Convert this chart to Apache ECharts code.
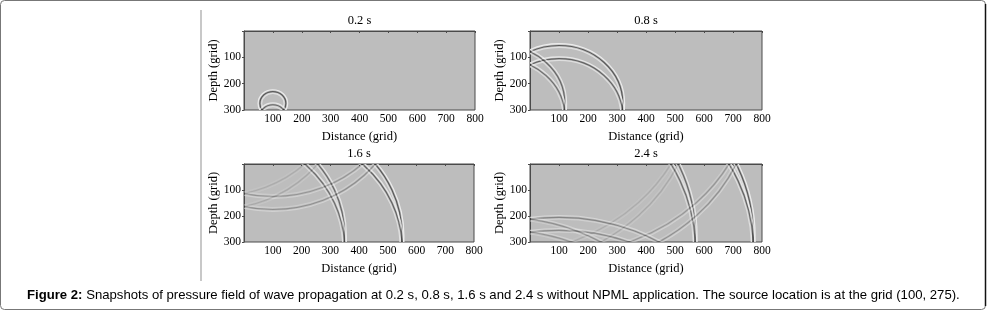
<!DOCTYPE html>
<html>
<head>
<meta charset="utf-8">
<script src="https://cdn.jsdelivr.net/npm/echarts@6/dist/echarts.min.js"></script>
<style>
  html, body { margin: 0; padding: 0; background: #fff; }
  #main { width: 987px; height: 311px; }
</style>
</head>
<body>
<div id="main"></div>
<script>
// snapshot times and wavefront radius (grid units)
var times = ["0.2 s", "0.8 s", "1.6 s", "2.4 s"];
var radii = [45, 220, 450, 670];
// source (100, 275) and its mirror images: [x, depth, strength]
var sources = [
  [100, 275, 1.0], [100, 325, 0.9],
  [-100, 275, 0.85], [-100, 325, 0.8],
  [100, -275, 0.45], [100, -325, 0.4],
  [-100, -275, 0.2], [-100, -325, 0.18],
  [100, 875, 0.55], [100, 925, 0.5],
  [-100, 875, 0.45], [-100, 925, 0.4]
];
var xTicks = [0, 100, 200, 300, 400, 500, 600, 700, 800];
var yTicks = [0, 100, 200, 300];

var chartDom = document.getElementById("main");
var myChart = echarts.init(chartDom);

var grids = [
  { left: 244, top: 31, width: 231, height: 79 },
  { left: 530, top: 31, width: 232, height: 79 },
  { left: 244, top: 164, width: 230, height: 78 },
  { left: 530, top: 164, width: 232, height: 78 }
];
var serif = "Liberation Serif";

function renderWave(params, api) {
  var c = api.coord([api.value(0), api.value(1)]);
  var s = api.size([api.value(2), api.value(2)]);
  var a = api.value(3);
  var bands = [
    [1.8, "rgba(245,245,245," + (0.85 * a) + ")"],
    [0, "rgba(45,45,45," + (0.7 * a) + ")"],
    [-1.8, "rgba(240,240,240," + (0.7 * a) + ")"]
  ];
  var children = [];
  bands.forEach(function (b) {
    children.push({
      type: "ellipse",
      shape: { cx: c[0], cy: c[1], rx: Math.max(s[0] + b[0], 0.5), ry: Math.max(s[1] + b[0], 0.5) },
      style: { fill: null, stroke: b[1], lineWidth: 1.2 }
    });
  });
  return { type: "group", children: children };
}

var option = {
  animation: false,
  title: [],
  grid: [],
  xAxis: [],
  yAxis: [],
  series: [],
  graphic: [
    {
      type: "rect",
      shape: { x: 0.5, y: 0.5, width: 985, height: 309, r: 4 },
      style: { fill: null, stroke: "#777", lineWidth: 1 },
      silent: true
    },
    {
      type: "line",
      shape: { x1: 985.5, y1: 4, x2: 985.5, y2: 306 },
      style: { stroke: "#111", lineWidth: 1.5 },
      silent: true
    },
    {
      type: "line",
      shape: { x1: 201, y1: 10, x2: 201, y2: 281 },
      style: { stroke: "#c8c8c8", lineWidth: 2 },
      silent: true
    },
    {
      type: "text",
      left: 27,
      top: 289,
      style: {
        text: "{b|Figure 2:} Snapshots of pressure field of wave propagation at 0.2 s, 0.8 s, 1.6 s and 2.4 s without NPML application. The source location is at the grid (100, 275).",
        font: "13.15px Liberation Sans",
        fill: "#000",
        rich: { b: { fontWeight: "bold", fontSize: 13.15, fontFamily: "Liberation Sans" } }
      }
    }
  ]
};

times.forEach(function (t, i) {
  var g = grids[i];
  option.title.push({
    text: t,
    left: g.left + g.width / 2,
    top: g.top - 17,
    padding: 0,
    textAlign: "center",
    textStyle: { fontFamily: serif, fontSize: 12.5, fontWeight: "normal", color: "#000" }
  });
  option.grid.push({
    left: g.left, top: g.top, width: g.width, height: g.height,
    show: true, backgroundColor: "#bdbdbd", borderColor: "#4a4a4a", borderWidth: 1
  });
  option.xAxis.push({
    type: "value", gridIndex: i, min: xTicks[0], max: xTicks[xTicks.length - 1], interval: 100,
    name: "Distance (grid)", nameLocation: "middle", nameGap: 20,
    nameTextStyle: { fontFamily: serif, fontSize: 12.5, color: "#000" },
    axisLine: { show: true, lineStyle: { color: "#4a4a4a" } },
    axisTick: { show: true, length: 2, lineStyle: { color: "#4a4a4a" } },
    axisLabel: {
      margin: 3, fontFamily: serif, fontSize: 11.5, color: "#000",
      formatter: function (v) { return v === 0 ? "" : v; }
    },
    splitLine: { show: false }
  });
  option.yAxis.push({
    type: "value", gridIndex: i, inverse: true, min: yTicks[0], max: yTicks[yTicks.length - 1], interval: 100,
    name: "Depth (grid)", nameLocation: "middle", nameGap: 24,
    nameTextStyle: { fontFamily: serif, fontSize: 12.5, color: "#000" },
    axisLine: { show: true, lineStyle: { color: "#4a4a4a" } },
    axisTick: { show: true, length: 2, lineStyle: { color: "#4a4a4a" } },
    axisLabel: {
      margin: 3, fontFamily: serif, fontSize: 11.5, color: "#000",
      formatter: function (v) { return v === 0 ? "" : v; }
    },
    splitLine: { show: false }
  });
  option.series.push({
    type: "custom",
    xAxisIndex: i,
    yAxisIndex: i,
    clip: true,
    silent: true,
    renderItem: renderWave,
    data: sources.map(function (s) { return [s[0], s[1], radii[i], s[2]]; })
  });
});

option && myChart.setOption(option);
</script>
</body>
</html>
